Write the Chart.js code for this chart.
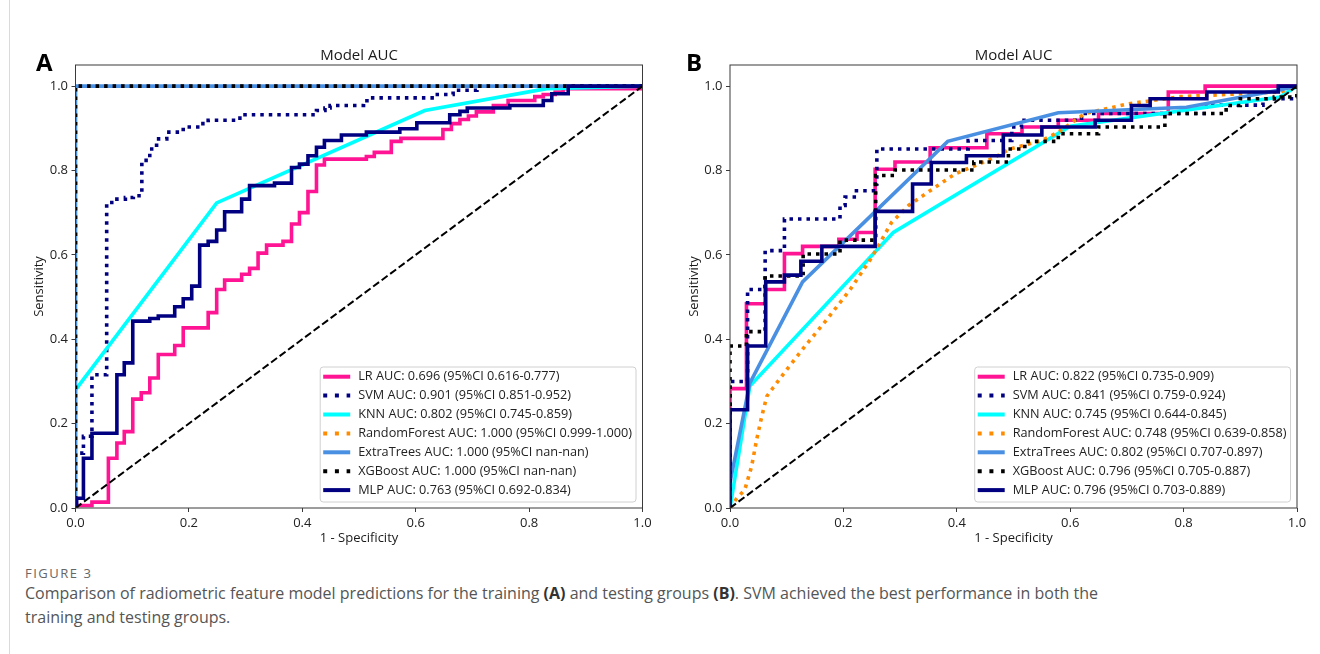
<!DOCTYPE html>
<html>
<head>
<meta charset="utf-8">
<style>
  body { margin: 0; width: 1320px; height: 654px; background: #fff; position: relative; overflow: hidden; font-family: "Open Sans", sans-serif; }
  canvas { position: absolute; top: 0; }
  #chartA { left: 0; }
  #chartB { left: 660px; }
  .edge { position: absolute; left: 9px; top: 0; width: 1px; height: 654px; background: #dadada; }
  .fig-label { position: absolute; left: 25px; top: 564px; font-size: 13px; line-height: 18px; color: #666; letter-spacing: 1.5px; }
  .caption { position: absolute; left: 25px; top: 581px; font-size: 16px; line-height: 24px; color: #555; white-space: nowrap; }
  .caption b { color: #333; }
</style>
<script src="https://cdn.jsdelivr.net/npm/chart.js"></script>
</head>
<body>
<div class="edge"></div>
<canvas id="chartA" width="660" height="560"></canvas>
<canvas id="chartB" width="660" height="560"></canvas>
<div class="fig-label">FIGURE 3</div>
<div class="caption">Comparison of radiometric feature model predictions for the training <b>(A)</b> and testing groups <b>(B)</b>. SVM achieved the best performance in both the<br>training and testing groups.</div>

<script>
  const axisTicks = [0, 0.2, 0.4, 0.6, 0.8, 1.0];
  const modelNames = ["LR", "SVM", "KNN", "RandomForest", "ExtraTrees", "XGBoost", "MLP"];

  // training group (A)
  const aucTrain = [0.696, 0.901, 0.802, 1.0, 1.0, 1.0, 0.763];
  const ciTrain = ["0.616-0.777", "0.851-0.952", "0.745-0.859", "0.999-1.000", "nan-nan", "nan-nan", "0.692-0.834"];

  const lrFprA = [0, 0, 0.029, 0.058, 0.073, 0.086, 0.101, 0.116, 0.131, 0.146, 0.175, 0.19, 0.234, 0.249, 0.263, 0.293, 0.307, 0.322, 0.337, 0.366, 0.381, 0.395, 0.41, 0.425, 0.439, 0.513, 0.527, 0.557, 0.574, 0.648, 0.663, 0.678, 0.693, 0.707, 0.737, 0.763, 0.81, 0.825, 0.846, 0.86, 1];
  const lrTprA = [0, 0.006, 0.014, 0.118, 0.154, 0.181, 0.258, 0.273, 0.308, 0.364, 0.385, 0.427, 0.463, 0.518, 0.54, 0.554, 0.568, 0.604, 0.623, 0.632, 0.673, 0.7, 0.75, 0.813, 0.827, 0.833, 0.843, 0.869, 0.876, 0.897, 0.911, 0.921, 0.929, 0.939, 0.954, 0.966, 0.975, 0.98, 0.986, 0.994, 1];
  const svmFprA = [0, 0, 0.014, 0.029, 0.055, 0.073, 0.088, 0.102, 0.117, 0.131, 0.143, 0.161, 0.19, 0.22, 0.234, 0.284, 0.299, 0.425, 0.44, 0.449, 0.508, 0.514, 0.634, 0.666, 0.708, 1];
  const svmTprA = [0, 0.13, 0.17, 0.316, 0.724, 0.732, 0.736, 0.74, 0.824, 0.851, 0.875, 0.891, 0.903, 0.911, 0.919, 0.924, 0.932, 0.942, 0.948, 0.954, 0.958, 0.972, 0.98, 0.99, 1, 1];
  const knnFprA = [0, 0, 0.249, 0.616, 0.831, 1];
  const knnTprA = [0, 0.28, 0.723, 0.942, 0.994, 1];
  const rfFprA = [0, 0, 1];
  const rfTprA = [0, 1, 1];
  const etFprA = [0, 0, 1];
  const etTprA = [0, 1, 1];
  const xgbFprA = [0, 0, 1];
  const xgbTprA = [0, 1, 1];
  const mlpFprA = [0, 0.002, 0.014, 0.029, 0.073, 0.086, 0.101, 0.131, 0.146, 0.175, 0.19, 0.205, 0.219, 0.234, 0.249, 0.263, 0.293, 0.307, 0.351, 0.381, 0.395, 0.41, 0.425, 0.439, 0.469, 0.513, 0.572, 0.602, 0.66, 0.678, 0.691, 0.766, 0.825, 0.84, 0.869, 1];
  const mlpTprA = [0, 0.023, 0.118, 0.177, 0.316, 0.344, 0.443, 0.449, 0.455, 0.477, 0.496, 0.526, 0.623, 0.632, 0.659, 0.702, 0.732, 0.764, 0.77, 0.807, 0.815, 0.835, 0.855, 0.871, 0.884, 0.891, 0.899, 0.913, 0.932, 0.94, 0.948, 0.954, 0.966, 0.982, 1, 1];

  // testing group (B)
  const aucTest = [0.822, 0.841, 0.745, 0.748, 0.802, 0.796, 0.796];
  const ciTest = ["0.735-0.909", "0.759-0.924", "0.644-0.845", "0.639-0.858", "0.707-0.897", "0.705-0.887", "0.703-0.889"];

  const lrFprB = [0, 0, 0.029, 0.062, 0.096, 0.128, 0.192, 0.224, 0.256, 0.291, 0.353, 0.453, 0.515, 0.579, 0.65, 0.773, 0.838, 1];
  const lrTprB = [0, 0.283, 0.484, 0.518, 0.603, 0.62, 0.637, 0.653, 0.803, 0.82, 0.854, 0.887, 0.903, 0.919, 0.935, 0.986, 1, 1];
  const svmFprB = [0, 0, 0.031, 0.062, 0.096, 0.194, 0.203, 0.223, 0.253, 0.259, 0.42, 0.497, 0.514, 0.62, 0.84, 0.94, 1];
  const svmTprB = [0, 0.3, 0.518, 0.61, 0.685, 0.717, 0.737, 0.752, 0.768, 0.851, 0.871, 0.903, 0.919, 0.935, 0.955, 0.97, 1];
  const knnFprB = [0, 0.035, 0.288, 0.6, 0.97, 1];
  const knnTprB = [0, 0.289, 0.653, 0.905, 0.974, 1];
  const rfFprB = [0, 0.012, 0.026, 0.038, 0.047, 0.056, 0.065, 0.076, 0.1, 0.135, 0.171, 0.212, 0.25, 0.285, 0.315, 0.344, 0.397, 0.462, 0.494, 0.55, 0.579, 0.626, 0.703, 0.794, 0.97, 1];
  const rfTprB = [0, 0.023, 0.043, 0.098, 0.162, 0.217, 0.265, 0.285, 0.328, 0.388, 0.447, 0.518, 0.594, 0.677, 0.717, 0.744, 0.792, 0.828, 0.851, 0.871, 0.891, 0.935, 0.958, 0.975, 0.986, 1];
  const etFprB = [0, 0, 0.035, 0.128, 0.384, 0.579, 0.805, 0.967, 1];
  const etTprB = [0, 0.06, 0.296, 0.536, 0.869, 0.937, 0.95, 0.99, 1];
  const xgbFprB = [0, 0, 0.029, 0.062, 0.129, 0.194, 0.257, 0.291, 0.43, 0.491, 0.52, 0.579, 0.65, 0.767, 0.875, 0.9, 0.96, 1];
  const xgbTprB = [0, 0.384, 0.418, 0.55, 0.602, 0.635, 0.788, 0.801, 0.82, 0.851, 0.869, 0.887, 0.903, 0.935, 0.954, 0.97, 0.974, 1];
  const mlpFprB = [0, 0, 0.031, 0.063, 0.096, 0.125, 0.162, 0.256, 0.322, 0.355, 0.417, 0.482, 0.55, 0.644, 0.708, 0.741, 0.841, 0.967, 1];
  const mlpTprB = [0, 0.233, 0.384, 0.536, 0.552, 0.585, 0.62, 0.703, 0.768, 0.819, 0.835, 0.884, 0.903, 0.919, 0.954, 0.97, 0.986, 1, 1];

  const chanceLine = [0, 1];

  // line styles, same order as modelNames
  const modelStyles = [
    { color: "#ff1493", dash: [], stepped: true },
    { color: "#000080", dash: [3.5, 5], stepped: true },
    { color: "#00ffff", dash: [], stepped: false },
    { color: "#ff8c00", dash: [3.5, 5], stepped: false },
    { color: "#4a90e2", dash: [], stepped: false },
    { color: "#000000", dash: [3.5, 5], stepped: true },
    { color: "#000080", dash: [], stepped: true },
  ];

  const FONT = '"Open Sans", sans-serif';
  Chart.defaults.font.family = FONT;
  Chart.defaults.color = "#222";

  function points(fpr, tpr) {
    return fpr.map((x, i) => ({ x: x, y: tpr[i] }));
  }

  // frame, legend, titles
  const figurePlugin = {
    id: "figure",
    afterDatasetsDraw(chart, args, opts) {
      const ctx = chart.ctx;
      const a = chart.chartArea;
      ctx.save();
      ctx.strokeStyle = "#3a3a3a";
      ctx.lineWidth = 1;
      ctx.strokeRect(a.left, a.top, a.right - a.left, a.bottom - a.top);

      // legend in lower right
      const items = chart.data.datasets.filter((d) => d.label);
      ctx.font = "12.7px " + FONT;
      let maxW = 0;
      items.forEach((d) => { maxW = Math.max(maxW, ctx.measureText(d.label).width); });
      const w = 38 + maxW + 4;
      const h = 135;
      const left = a.right - 6.5 - w;
      const top = a.bottom - 6 - h;
      ctx.beginPath();
      ctx.roundRect(left, top, w, h, 3);
      ctx.fillStyle = "rgba(255,255,255,0.85)";
      ctx.fill();
      ctx.strokeStyle = "#d0d0d0";
      ctx.stroke();
      items.forEach((d, i) => {
        const y = top + 9.7 + i * 18.9;
        ctx.beginPath();
        ctx.strokeStyle = d.borderColor;
        ctx.lineWidth = 4;
        ctx.setLineDash(d.borderDash.length ? [4, 7.7] : []);
        ctx.moveTo(left + 3, y);
        ctx.lineTo(left + 30, y);
        ctx.stroke();
        ctx.setLineDash([]);
        ctx.fillStyle = "#222";
        ctx.textAlign = "left";
        ctx.textBaseline = "middle";
        ctx.fillText(d.label, left + 38, y);
      });
      ctx.restore();
    },
    afterDraw(chart, args, opts) {
      const ctx = chart.ctx;
      const a = chart.chartArea;
      const cx = (a.left + a.right) / 2;
      ctx.save();
      ctx.fillStyle = "#1a1a1a";
      ctx.textAlign = "center";
      ctx.textBaseline = "alphabetic";
      ctx.font = "15px " + FONT;
      ctx.fillText("Model AUC", cx, a.top - 5);

      ctx.font = "13px " + FONT;
      ctx.textBaseline = "middle";
      ctx.fillText("1 - Specificity", cx, 538.5);
      ctx.translate(a.left - 36, (a.top + a.bottom) / 2);
      ctx.rotate(-Math.PI / 2);
      ctx.fillText("Sensitivity", 0, 0);
      ctx.restore();

      ctx.save();
      ctx.fillStyle = "#000";
      ctx.font = "bold 24px " + FONT;
      ctx.textAlign = "left";
      ctx.textBaseline = "alphabetic";
      ctx.fillText(opts.letter, opts.letterX, 71);
      ctx.restore();
    },
  };

  function makeChart(id, curves, aucs, cis, letter, letterX, yWidth, padRight) {
    const datasets = curves.map((c, i) => ({
      label: modelNames[i] + " AUC: " + aucs[i].toFixed(3) + " (95%CI " + cis[i] + ")",
      data: points(c[0], c[1]),
      borderColor: modelStyles[i].color,
      borderDash: modelStyles[i].dash,
      stepped: modelStyles[i].stepped,
      borderWidth: 3.6,
      order: modelNames.length - i,
    }));
    datasets.push({
      data: points(chanceLine, chanceLine),
      borderColor: "#000",
      borderDash: [7.4, 3.2],
      borderWidth: 2,
      order: 0,
    });

    return new Chart(document.getElementById(id).getContext("2d"), {
      type: "line",
      data: { datasets: datasets },
      options: {
        responsive: false,
        animation: false,
        events: [],
        layout: { autoPadding: false, padding: { left: 0, top: 65, right: padRight, bottom: 0 } },
        elements: { point: { radius: 0 }, line: { tension: 0, fill: false } },
        plugins: {
          legend: { display: false },
          tooltip: { enabled: false },
          title: { display: false },
          figure: { letter: letter, letterX: letterX },
        },
        scales: {
          x: {
            type: "linear",
            min: 0,
            max: 1,
            border: { display: false },
            grid: { drawOnChartArea: false, tickLength: 4, color: "#3a3a3a" },
            afterBuildTicks: (s) => { s.ticks = axisTicks.map((v) => ({ value: v })); },
            ticks: { padding: 3, maxRotation: 0, font: { size: 13 }, callback: (v) => v.toFixed(1) },
            afterFit: (s) => { s.height = 52; },
          },
          y: {
            type: "linear",
            min: 0,
            max: 1.05,
            border: { display: false },
            grid: { drawOnChartArea: false, tickLength: 4, color: "#3a3a3a" },
            afterBuildTicks: (s) => { s.ticks = axisTicks.map((v) => ({ value: v })); },
            ticks: { padding: 3.5, font: { size: 13 }, callback: (v) => v.toFixed(1) },
            afterFit: (s) => { s.width = yWidth; },
          },
        },
      },
      plugins: [figurePlugin],
    });
  }

  makeChart("chartA", [
    [lrFprA, lrTprA], [svmFprA, svmTprA], [knnFprA, knnTprA], [rfFprA, rfTprA],
    [etFprA, etTprA], [xgbFprA, xgbTprA], [mlpFprA, mlpTprA],
  ], aucTrain, ciTrain, "A", 36, 75.5, 17.5);

  makeChart("chartB", [
    [lrFprB, lrTprB], [svmFprB, svmTprB], [knnFprB, knnTprB], [rfFprB, rfTprB],
    [etFprB, etTprB], [xgbFprB, xgbTprB], [mlpFprB, mlpTprB],
  ], aucTest, ciTest, "B", 26, 70, 23);
</script>
</body>
</html>
